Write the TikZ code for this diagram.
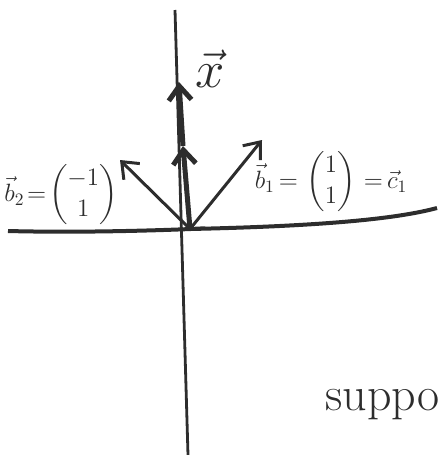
\documentclass[tikz,border=0pt]{standalone}
\usepackage{amsmath}
\usepackage{tikz}
\usetikzlibrary{arrows.meta, positioning}
\definecolor{lapis}{RGB}{45, 45, 45}

\begin{document}
\begin{tikzpicture}[x=1pt, y=-1pt,
    vec/.style={-{Straight Barb[length=5mm, width=8mm]}, line width=3pt, lapis},
    lbl/.style={font=\Large, scale=1.74, lapis}]
  \useasboundingbox (0,0) rectangle (439,455);
  % eixos
  \coordinate (O) at (190,229);
  \coordinate (top) at (175,10);
  \coordinate (bot) at (188,455);
  \coordinate (left) at (8,231);
  \coordinate (right) at (437,208);
  \draw[line width=2.8pt, lapis] (top) -- (bot);
  \draw[line width=4pt, lapis] (left) .. controls (120,234) and (250,226) .. (O)
    .. controls (330,226) and (400,218) .. (right);
  % vetor x
  \coordinate (xmid) at (183,146);
  \coordinate (xtip) at (179,82);
  \draw[vec, line width=5pt] (O) -- (xmid);
  \draw[vec, line width=5pt] (xmid) -- (xtip);
  \node[lbl, scale=2.1, anchor=south west, inner sep=0pt] (xlab) at (195,88) {$\vec{x}$};
  % vetores b
  \coordinate (b2tip) at (120,160);
  \coordinate (b1tip) at (262,140);
  \draw[vec] (O) -- (b2tip);
  \draw[vec] (O) -- (b1tip);
  \node[lbl] (b2lab) at (61,195) {$\vec{b}_2\!=\!\begin{pmatrix}-1\\1\end{pmatrix}$};
  \node[lbl] (b1lab) at (331,182) {$\vec{b}_1\,{=}\,\begin{pmatrix}1\\1\end{pmatrix}\,{=}\,\vec{c}_1$};
  % texto
  \node[font=\fontsize{48}{48}\selectfont, lapis, anchor=base west] (sup) at (322,410) {suppo};
\end{tikzpicture}
\end{document}
